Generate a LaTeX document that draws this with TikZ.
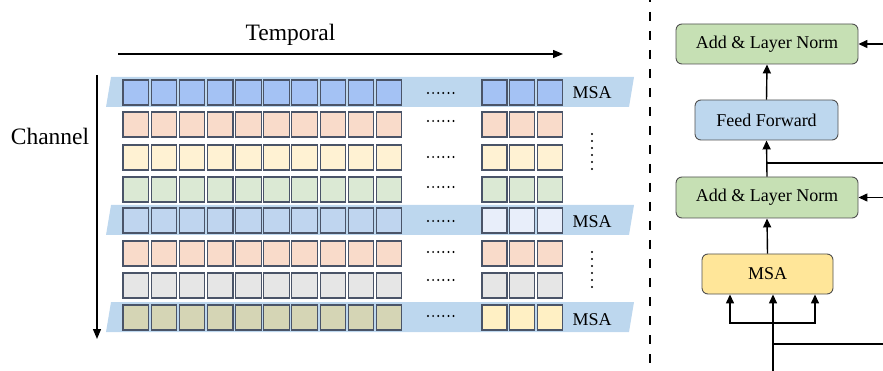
\documentclass[tikz,border=0pt]{standalone}
\usepackage{fontspec}
\setmainfont{Liberation Serif}
\usetikzlibrary{arrows.meta,calc}
\definecolor{bandcol}{HTML}{BDD7EE}
\definecolor{cborder}{HTML}{4A5468}
\definecolor{cblue}{HTML}{A4C2F4}
\definecolor{cpeach}{HTML}{F9DBCA}
\definecolor{cyellow}{HTML}{FFF2D3}
\definecolor{cgreen}{HTML}{DBE9D4}
\definecolor{cblueb}{HTML}{BFD5EF}
\definecolor{cpale}{HTML}{E8EEFA}
\definecolor{cgray}{HTML}{E6E6E6}
\definecolor{colive}{HTML}{D5D5B5}
\definecolor{cyelb}{HTML}{FFF0C4}
\definecolor{alncol}{HTML}{C6E0B4}
\definecolor{ffcol}{HTML}{BDD7EE}
\definecolor{msacol}{HTML}{FFE699}
\definecolor{boxborder}{HTML}{505050}
\newcommand{\cellrow}[3]{%
  \foreach \i in {0,...,9} {\draw[cell, fill=#2] ({123+\i*28.15}, #1) rectangle ++(25.5,25);}
  \foreach \i in {0,1,2} {\draw[cell, fill=#3] ({482+\i*27.8}, #1) rectangle ++(25,25);}
}
\newcommand{\bandrow}[1]{%
  \fill[bandcol] (106,#1+27) -- (111,#1-3) -- (634,#1-3) -- (629,#1+27) -- cycle;
}
\newcommand{\hdots}[1]{%
  \foreach \i in {0,...,5} {\fill ({428+\i*5.1}, #1) circle (1.1);}
}
\newcommand{\vdotsat}[1]{%
  \foreach \i in {0,...,5} {\fill (592, {#1+\i*7}) circle (1.1);}
}
\begin{document}
\begin{tikzpicture}[x=1pt,y=-1pt,
  cell/.style={draw=cborder, line width=1.1pt},
  arr/.style={-{Triangle[length=9pt,width=8pt]}, line width=1.4pt},
  blk/.style={draw=boxborder, line width=0.9pt, rounded corners=6pt, font=\fontsize{18}{20}\selectfont, inner sep=0pt},
  lbl/.style={font=\fontsize{18}{20}\selectfont, anchor=base, inner sep=0pt},
  big/.style={font=\fontsize{23.5}{26}\selectfont, anchor=base, inner sep=0pt}]
\useasboundingbox (0,0) rectangle (883,371);
% bands
\bandrow{80}
\bandrow{208}
\bandrow{305}
% rows
\cellrow{80}{cblue}{cblue}
\cellrow{112}{cpeach}{cpeach}
\cellrow{145}{cyellow}{cyellow}
\cellrow{177}{cgreen}{cgreen}
\cellrow{208}{cblueb}{cpale}
\cellrow{241}{cpeach}{cpeach}
\cellrow{273}{cgray}{cgray}
\cellrow{305}{colive}{cyelb}
% horizontal dots
\hdots{93}
\hdots{121}
\hdots{157}
\hdots{187}
\hdots{221}
\hdots{252}
\hdots{280}
\hdots{316}
% vertical dots
\vdotsat{134}
\vdotsat{252}
% MSA labels
\node[lbl] (m1) at (592,99) {MSA};
\node[lbl] (m2) at (592,228) {MSA};
\node[lbl] (m3) at (592,325) {MSA};
% axes
\node[big] (temporal) at (290.5,41) {Temporal};
\node[big] (channel) at (50,145) {Channel};
\coordinate (ts) at (118,54);
\coordinate (te) at (563,54);
\draw[-{Triangle[length=10pt,width=8pt]}, line width=1.3pt] (ts) -- (te);
\coordinate (cs) at (97,75);
\coordinate (ce) at (97,339);
\draw[-{Triangle[length=10pt,width=8pt]}, line width=1.3pt] (cs) -- (ce);
% dashed separator
\coordinate (d1) at (650,0);
\coordinate (d2) at (650,371);
\draw[line width=2.6pt, dash pattern=on 9pt off 10pt, dash phase=7pt] (d1) -- (d2);
% right blocks
\node[blk, fill=alncol, minimum width=182pt, minimum height=40pt] (aln1) at (767,44) {Add \& Layer Norm};
\node[blk, fill=ffcol, minimum width=143pt, minimum height=40pt] (ff) at (766.5,120) {Feed Forward};
\node[blk, fill=alncol, minimum width=182pt, minimum height=41pt] (aln2) at (767,197.5) {Add \& Layer Norm};
\node[blk, fill=msacol, minimum width=131pt, minimum height=40pt] (msa) at (767.5,274) {MSA};
\draw[arr] (ff.north) -- (aln1.south);
\draw[arr] (aln2.north) -- (ff.south);
\draw[arr] (msa.north) -- (aln2.south);
\coordinate (r1) at (883,44);
\coordinate (r2) at (883,197.5);
\draw[arr] (r1) -- (aln1.east);
\draw[arr] (r2) -- (aln2.east);
\coordinate (b1) at (883,163);
\draw[line width=1.4pt] (b1) -- (b1 -| ff.south);
\coordinate (bot) at (773,371);
\coordinate (j) at (773,323);
\coordinate (k) at (773,344);
\coordinate (b2) at (883,344);
\draw[arr] (bot) -- (bot |- msa.south);
\draw[arr] (j) -| ([xshift=-37.5pt]msa.south);
\draw[arr] (j) -| ([xshift=47.5pt]msa.south);
\draw[line width=1.4pt] (k) -- (b2);
\end{tikzpicture}
\end{document}
